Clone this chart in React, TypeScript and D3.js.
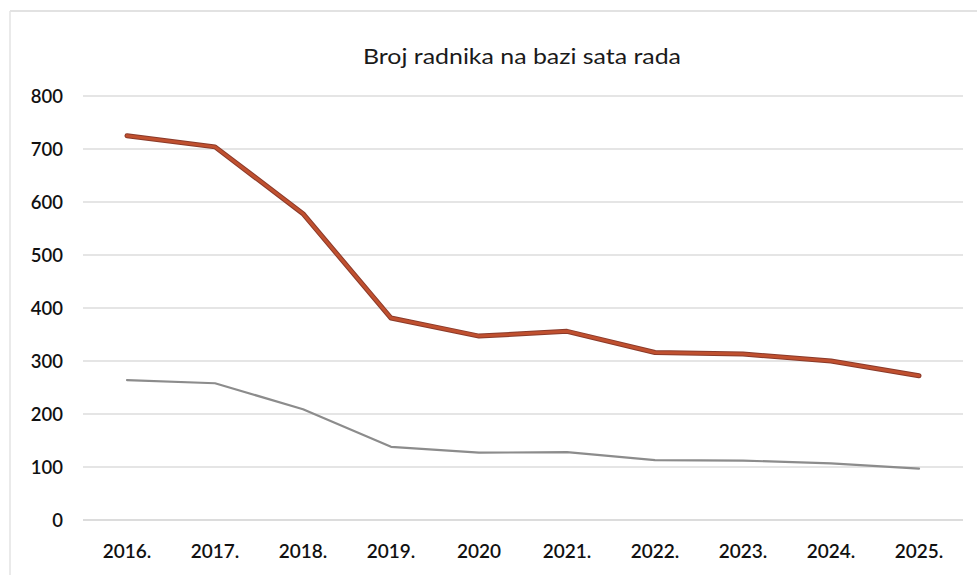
import React from "react";
import * as d3 from "d3";

const title = "Broj radnika na bazi sata rada";
const years = ["2016.", "2017.", "2018.", "2019.", "2020", "2021.", "2022.", "2023.", "2024.", "2025."];
const seriesRed = [725, 704, 578, 381, 347, 356, 316, 313, 300, 272];
const seriesGray = [264, 258, 209, 138, 127, 128, 113, 112, 107, 97];
const yTicks = [0, 100, 200, 300, 400, 500, 600, 700, 800];

const W = 977;
const H = 575;
const plot = { left: 83, right: 963, top: 96, bottom: 520 };

export default function App() {
  const x = d3.scaleBand<string>().domain(years).range([plot.left, plot.right]);
  const y = d3.scaleLinear().domain([0, 800]).range([plot.bottom, plot.top]);
  const line = d3
    .line<number>()
    .x((_, i) => (x(years[i]) as number) + x.bandwidth() / 2)
    .y((d) => y(d));
  const font = "Lato, 'Open Sans', sans-serif";
  return (
    <svg
      width={W}
      height={H}
      style={{ position: "fixed", left: 0, top: 0, background: "#fff" }}
    >
      <rect x={0} y={0} width={W} height={H} fill="#fff" />
      <line x1={10} y1={11} x2={W} y2={11} stroke="#d9d9d9" strokeWidth={1.5} />
      <line x1={10} y1={11} x2={10} y2={H} stroke="#e3e3e3" strokeWidth={1.5} />
      <text
        x={522}
        y={64}
        textAnchor="middle"
        fontFamily={font}
        fontSize={21}
        fill="#1a1a1a"
        textLength={318}
        lengthAdjust="spacingAndGlyphs"
      >
        {title}
      </text>
      {yTicks.map((t) => (
        <g key={t}>
          <line
            x1={plot.left}
            x2={plot.right}
            y1={y(t)}
            y2={y(t)}
            stroke={t === 0 ? "#d0d0d0" : "#dcdcdc"}
            strokeWidth={1.3}
          />
          <text
            x={63}
            y={y(t) + 6.5}
            textAnchor="end"
            fontFamily={font}
            fontSize={18.5}
            fontWeight={600}
            fill="#111"
          >
            {t}
          </text>
        </g>
      ))}
      {years.map((yr) => (
        <text
          key={yr}
          x={(x(yr) as number) + x.bandwidth() / 2}
          y={558}
          textAnchor="middle"
          fontFamily={font}
          fontSize={19}
          fontWeight={600}
          fill="#111"
        >
          {yr}
        </text>
      ))}
      <path
        d={line(seriesGray) || ""}
        fill="none"
        stroke="#8c8c8c"
        strokeWidth={2.2}
        strokeLinejoin="round"
        strokeLinecap="round"
      />
      <path
        d={line(seriesRed) || ""}
        fill="none"
        stroke="#8a3a2a"
        strokeWidth={5}
        strokeLinejoin="round"
        strokeLinecap="round"
      />
      <path
        d={line(seriesRed) || ""}
        fill="none"
        stroke="#c0502f"
        strokeWidth={3}
        strokeLinejoin="round"
        strokeLinecap="round"
      />
    </svg>
  );
}
